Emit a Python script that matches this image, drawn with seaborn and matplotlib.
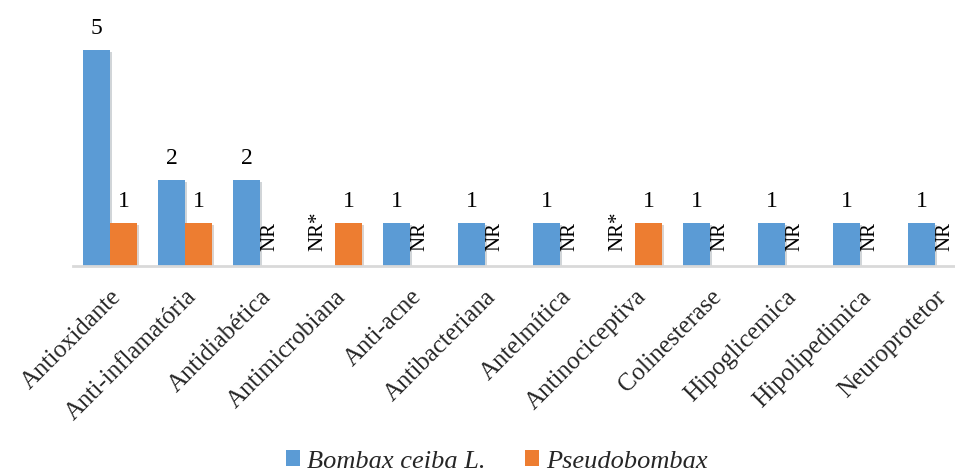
import numpy as np
import pandas as pd
import seaborn as sns
import matplotlib.pyplot as plt
import matplotlib.patheffects as pe
from matplotlib.patches import Patch

# --- dados ---
categorias = ["Antioxidante", "Anti-inflamatória", "Antidiabética", "Antimicrobiana",
              "Anti-acne", "Antibacteriana", "Antelmítica", "Antinociceptiva",
              "Colinesterase", "Hipoglicemica", "Hipolipedimica", "Neuroprotetor"]
especies = ["Bombax ceiba L.", "Pseudobombax"]
bombax = [5, 2, 2, None, 1, 1, 1, None, 1, 1, 1, 1]
pseudobombax = [1, 1, None, 1, None, None, None, 1, None, None, None, None]
rotulo_nr = ["NR*", "NR"]   # texto quando a atividade não foi relatada
cores = ["#5B9BD5", "#ED7D31"]

df = pd.DataFrame({
    "Atividade": categorias * 2,
    "Espécie": [especies[0]] * len(categorias) + [especies[1]] * len(categorias),
    "Estudos": [np.nan if v is None else v for v in bombax + pseudobombax],
})

sns.set_theme(style="white")
plt.rcParams["font.family"] = ["Liberation Serif", "DejaVu Serif"]

fig = plt.figure(figsize=(9.55, 4.72), dpi=100)
ax = fig.add_axes([0.076, 0.436, 0.9424, 0.503])

largura = 0.72
sns.barplot(data=df, x="Atividade", y="Estudos", hue="Espécie", order=categorias,
            hue_order=especies, palette=cores, width=largura, saturation=1,
            linewidth=0, legend=False, ax=ax)

for p in ax.patches:
    p.set_edgecolor("none")
    p.set_path_effects([pe.SimplePatchShadow(offset=(1.5, -1.5), alpha=0.2), pe.Normal()])

# rótulos dos valores e "NR"
for j, serie in enumerate([bombax, pseudobombax]):
    desloc = (j - 0.5) * largura / 2
    for i, v in enumerate(serie):
        x = i + desloc
        if v is None:
            ax.text(x - 0.05, 0.36, rotulo_nr[j], rotation=90, ha="center", va="bottom",
                    fontsize=15, color="black")
        else:
            ax.annotate(str(v), (x, v), xytext=(0, 8), textcoords="offset points",
                        ha="center", va="bottom", fontsize=17, color="black",
                        annotation_clip=False)

ax.set_ylim(0, 5.5)
ax.set_xlim(-0.5, len(categorias) - 0.5)
ax.set_xlabel("")
ax.set_ylabel("")
ax.set_yticks([])
ax.set_xticks(range(len(categorias)))
ax.set_xticklabels(categorias, rotation=45, ha="right", rotation_mode="anchor", fontsize=18)
ax.tick_params(axis="x", length=0, pad=14)
for lado in ["top", "right", "left"]:
    ax.spines[lado].set_visible(False)
ax.spines["bottom"].set_color("#d9d9d9")
ax.spines["bottom"].set_linewidth(2)

handles = [Patch(facecolor=c, edgecolor="none") for c in cores]
fig.legend(handles, especies, loc="center", bbox_to_anchor=(0.52, 0.022), ncol=2,
           frameon=False, prop={"style": "italic", "size": 19}, handlelength=0.55,
           handleheight=0.55, handletextpad=0.25, columnspacing=1.5)

fig.savefig("out.png", dpi=100)
